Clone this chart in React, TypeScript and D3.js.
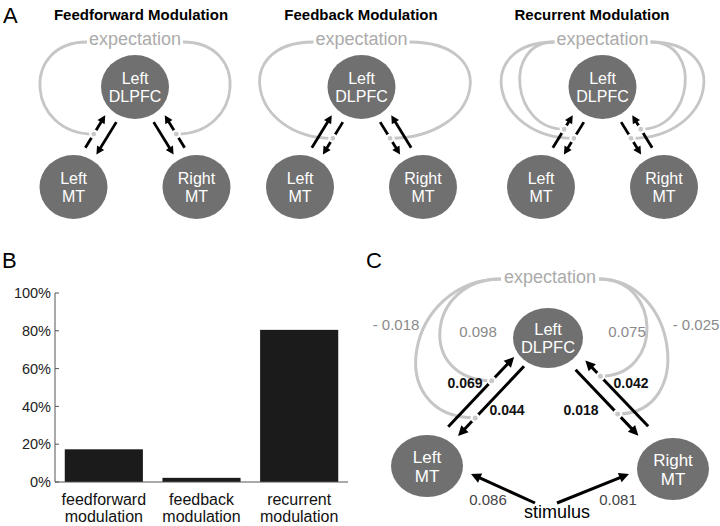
import React from "react";
import * as d3 from "d3";

// ---------- data ----------
const panelTitles = ["Feedforward Modulation", "Feedback Modulation", "Recurrent Modulation"];
const barLabels = [["feedforward", "modulation"], ["feedback", "modulation"], ["recurrent", "modulation"]];
const barValues = [17.3, 2.2, 80.5];
const yTicks = [0, 20, 40, 60, 80, 100];

const forwardWeights = [0.069, 0.042]; // left MT -> DLPFC, right MT -> DLPFC
const backwardWeights = [0.044, 0.018]; // DLPFC -> left MT, DLPFC -> right MT
const forwardModulation = [0.098, 0.075];
const backwardModulation = [-0.018, -0.025];
const stimulusWeights = [0.086, 0.081];

// ---------- helpers ----------
type P = { x: number; y: number };
type Seg = { from: P; to: P };

const FONT = "'Liberation Sans', Arial, Helvetica, sans-serif";
const NODE = "#707070";
const LOOP = "#c6c6c6";
const DOT = "#c9c9c9";

function arrowPair(M: P, D: P, len: number, upOff: number, downOff: number, shift: number) {
  const dx = D.x - M.x, dy = D.y - M.y, dist = Math.hypot(dx, dy);
  const ux = dx / dist, uy = dy / dist;
  const sign = M.x < D.x ? -1 : 1;
  const nx = sign * -uy, ny = sign * ux;
  const mx = (M.x + D.x) / 2 + ux * shift, my = (M.y + D.y) / 2 + uy * shift;
  const seg = (off: number): Seg => {
    const cx = mx + nx * off, cy = my + ny * off;
    return {
      from: { x: cx - (ux * len) / 2, y: cy - (uy * len) / 2 },
      to: { x: cx + (ux * len) / 2, y: cy + (uy * len) / 2 },
    };
  };
  const d0 = seg(downOff);
  return { forward: seg(upOff), backward: { from: d0.to, to: d0.from } };
}

// t measured from the MT end of the arrow
function pointOn(seg: Seg, t: number, isForward: boolean): P {
  const a = isForward ? seg.from : seg.to;
  const b = isForward ? seg.to : seg.from;
  return { x: a.x + (b.x - a.x) * t, y: a.y + (b.y - a.y) * t };
}

function loopPath(S: P, E: P, extremeX: number) {
  const h = ((S.x + E.x) / 2 - extremeX) / 0.75;
  const p = d3.path();
  p.moveTo(S.x, S.y);
  p.bezierCurveTo(S.x - h, S.y, E.x - h, E.y, E.x, E.y);
  return p.toString();
}

function Arrow({ seg, head = 9, hw = 4.5, w = 3 }: { seg: Seg; head?: number; hw?: number; w?: number }) {
  const dx = seg.to.x - seg.from.x, dy = seg.to.y - seg.from.y, L = Math.hypot(dx, dy);
  const ux = dx / L, uy = dy / L;
  const bx = seg.to.x - ux * head, by = seg.to.y - uy * head;
  const pts = [
    [seg.to.x, seg.to.y],
    [bx - uy * hw, by + ux * hw],
    [bx + uy * hw, by - ux * hw],
  ];
  return (
    <g>
      <line x1={seg.from.x} y1={seg.from.y} x2={bx + ux} y2={by + uy} stroke="#000" strokeWidth={w} />
      <polygon points={pts.map((q) => q.join(",")).join(" ")} fill="#000" />
    </g>
  );
}

function Node({ c, rx, ry, lines, fs, lh }: { c: P; rx: number; ry: number; lines: string[]; fs: number; lh: number }) {
  const cap = 0.716 * fs;
  return (
    <g>
      <ellipse cx={c.x} cy={c.y} rx={rx} ry={ry} fill={NODE} />
      {lines.map((s, i) => (
        <text key={i} x={c.x} y={c.y - lh / 2 + cap / 2 + i * lh} textAnchor="middle" fill="#fff" fontSize={fs} fontFamily={FONT}>
          {s}
        </text>
      ))}
    </g>
  );
}

const fmt = (v: number) => (v < 0 ? "- " + d3.format(".3f")(-v) : d3.format(".3f")(v));

// ---------- panel A ----------
const aCenters = [135, 361.5, 602.5];
const aTitleX = [141, 361, 592];
type LoopSpec = { kind: "forward" | "backward"; reach: [number, number]; t: number };
const aLoops: LoopSpec[][] = [
  [{ kind: "forward", reach: [95, 95], t: 0.42 }],
  [{ kind: "backward", reach: [101, 108], t: 0.5 }],
  [
    { kind: "forward", reach: [82.5, 82.5], t: 0.57 },
    { kind: "backward", reach: [100.5, 100.5], t: 0.5 },
  ],
];

function PanelA({ i }: { i: number }) {
  const cx = aCenters[i];
  const D = { x: cx, y: 87 };
  const LM = { x: cx - 61.5, y: 187 };
  const RM = { x: cx + 61.5, y: 187 };
  const pairs = [arrowPair(LM, D, 38, 10.5, -2.5, 0), arrowPair(RM, D, 38, 10.5, -2.5, 0)];
  const S = [{ x: cx - 48, y: 42 }, { x: cx + 48, y: 42 }];
  const loops: { d: string; dot: P }[] = [];
  aLoops[i].forEach((spec) => {
    [0, 1].forEach((side) => {
      const seg = pairs[side][spec.kind];
      const dot = pointOn(seg, spec.t, spec.kind === "forward");
      const ext = side === 0 ? cx - spec.reach[0] : cx + spec.reach[1];
      loops.push({ d: loopPath(S[side], dot, ext), dot });
    });
  });
  return (
    <g>
      <text x={aTitleX[i]} y={20} textAnchor="middle" fontWeight="bold" fontSize={15} fontFamily={FONT} fill="#000">
        {panelTitles[i]}
      </text>
      {loops.map((l, k) => (
        <path key={k} d={l.d} fill="none" stroke={LOOP} strokeWidth={2.8} />
      ))}
      <text x={cx} y={45} textAnchor="middle" fontSize={18} fontFamily={FONT} fill="#ababab">
        expectation
      </text>
      <Node c={D} rx={34} ry={32} lines={["Left", "DLPFC"]} fs={16} lh={18} />
      <Node c={LM} rx={34} ry={32} lines={["Left", "MT"]} fs={16} lh={18} />
      <Node c={RM} rx={34} ry={32} lines={["Right", "MT"]} fs={16} lh={18} />
      {pairs.map((p, k) => (
        <g key={k}>
          <Arrow seg={p.forward} head={8} hw={4.2} w={2.8} />
          <Arrow seg={p.backward} head={8} hw={4.2} w={2.8} />
        </g>
      ))}
      {loops.map((l, k) => (
        <circle key={k} cx={l.dot.x} cy={l.dot.y} r={3.5} fill={DOT} stroke="#fff" strokeWidth={2.2} />
      ))}
    </g>
  );
}

// ---------- panel B ----------
function PanelB() {
  const x = d3.scaleBand<string>().domain(barLabels.map((l) => l.join(" "))).range([55, 348]).paddingInner(0.2).paddingOuter(0.1);
  const y = d3.scaleLinear().domain([0, 100]).range([482, 293]);
  return (
    <g fontFamily={FONT}>
      <text x={2} y={268} fontSize={22} fill="#000">B</text>
      {barLabels.map((l, k) => (
        <rect key={k} x={x(l.join(" "))!} y={y(barValues[k])} width={x.bandwidth()} height={y(0) - y(barValues[k])} fill="#1b1b1b" />
      ))}
      <line x1={55} x2={55} y1={y(100)} y2={y(0)} stroke="#555" strokeWidth={1} />
      <line x1={55} x2={348} y1={y(0)} y2={y(0)} stroke="#555" strokeWidth={1} />
      {yTicks.map((t) => (
        <g key={t}>
          <line x1={55} x2={59} y1={y(t)} y2={y(t)} stroke="#555" strokeWidth={1} />
          <text x={51} y={y(t)} dy="0.36em" textAnchor="end" fontSize={14.5} fill="#222">
            {t}%
          </text>
        </g>
      ))}
      {barLabels.map((l, k) =>
        l.map((s, j) => (
          <text key={k + "-" + j} x={x(l.join(" "))! + x.bandwidth() / 2} y={505 + j * 17} textAnchor="middle" fontSize={16} fill="#111">
            {s}
          </text>
        ))
      )}
    </g>
  );
}

// ---------- panel C ----------
function PanelC() {
  const D = { x: 548, y: 338 };
  const LM = { x: 427, y: 466 };
  const RM = { x: 673, y: 469 };
  const pairs = [arrowPair(LM, D, 96, 11.5, -2, 3), arrowPair(RM, D, 91, 11.5, -2, 3)];
  const S = [{ x: 501, y: 279 }, { x: 599, y: 279 }];
  const fwdT = [0.66, 0.76];
  const bwdT = [0.26, 0.33];
  const fwdExt = [440, 647];
  const bwdExt = [417, 667];
  const loops: { d: string; dot: P }[] = [];
  [0, 1].forEach((side) => {
    const df = pointOn(pairs[side].forward, fwdT[side], true);
    loops.push({ d: loopPath(S[side], df, fwdExt[side]), dot: df });
    const db = pointOn(pairs[side].backward, bwdT[side], false);
    loops.push({ d: loopPath(S[side], db, bwdExt[side]), dot: db });
  });
  const stim = { x: 546, y: 503 };
  const stimArrows: Seg[] = [
    { from: { x: stim.x - 11, y: stim.y }, to: { x: LM.x + 44, y: LM.y + 8 } },
    { from: { x: stim.x + 11, y: stim.y }, to: { x: RM.x - 44, y: RM.y + 5 } },
  ];
  const grey = "#8a8a8a";
  return (
    <g fontFamily={FONT}>
      <text x={366} y={268} fontSize={22} fill="#000">C</text>
      {loops.map((l, k) => (
        <path key={k} d={l.d} fill="none" stroke={LOOP} strokeWidth={3} />
      ))}
      <text x={550} y={283} textAnchor="middle" fontSize={18} fill="#ababab">expectation</text>
      <Node c={D} rx={35} ry={30} lines={["Left", "DLPFC"]} fs={16.5} lh={18} />
      <Node c={LM} rx={36} ry={31} lines={["Left", "MT"]} fs={17} lh={19} />
      <Node c={RM} rx={36} ry={31} lines={["Right", "MT"]} fs={17} lh={19} />
      {pairs.map((p, k) => (
        <g key={k}>
          <Arrow seg={p.forward} head={10} hw={5} w={3} />
          <Arrow seg={p.backward} head={10} hw={5} w={3} />
        </g>
      ))}
      {stimArrows.map((s, k) => (
        <Arrow key={k} seg={s} head={10} hw={5} w={3} />
      ))}
      {loops.map((l, k) => (
        <circle key={k} cx={l.dot.x} cy={l.dot.y} r={3.6} fill={DOT} stroke="#fff" strokeWidth={2.2} />
      ))}
      <text x={396} y={330} textAnchor="middle" fontSize={15} fill={grey}>{fmt(backwardModulation[0])}</text>
      <text x={478} y={337} textAnchor="middle" fontSize={15} fill={grey}>{fmt(forwardModulation[0])}</text>
      <text x={627} y={337} textAnchor="middle" fontSize={15} fill={grey}>{fmt(forwardModulation[1])}</text>
      <text x={696} y={330} textAnchor="middle" fontSize={15} fill={grey}>{fmt(backwardModulation[1])}</text>
      <text x={465} y={388} textAnchor="middle" fontSize={14} fontWeight="bold" fill="#111">{fmt(forwardWeights[0])}</text>
      <text x={507} y={415} textAnchor="middle" fontSize={14} fontWeight="bold" fill="#111">{fmt(backwardWeights[0])}</text>
      <text x={581} y={415} textAnchor="middle" fontSize={14} fontWeight="bold" fill="#111">{fmt(backwardWeights[1])}</text>
      <text x={631} y={388} textAnchor="middle" fontSize={14} fontWeight="bold" fill="#111">{fmt(forwardWeights[1])}</text>
      <text x={488} y={505} textAnchor="middle" fontSize={15} fill="#444">{fmt(stimulusWeights[0])}</text>
      <text x={618} y={505} textAnchor="middle" fontSize={15} fill="#444">{fmt(stimulusWeights[1])}</text>
      <text x={557} y={518} textAnchor="middle" fontSize={18} fill="#000">stimulus</text>
    </g>
  );
}

export default function App() {
  return (
    <svg width={720} height={526} style={{ position: "absolute", left: 0, top: 0, background: "#fff" }}>
      <rect width={720} height={526} fill="#fff" />
      <text x={3} y={23} fontSize={22} fontFamily={FONT} fill="#000">A</text>
      {[0, 1, 2].map((i) => (
        <PanelA key={i} i={i} />
      ))}
      <PanelB />
      <PanelC />
    </svg>
  );
}
